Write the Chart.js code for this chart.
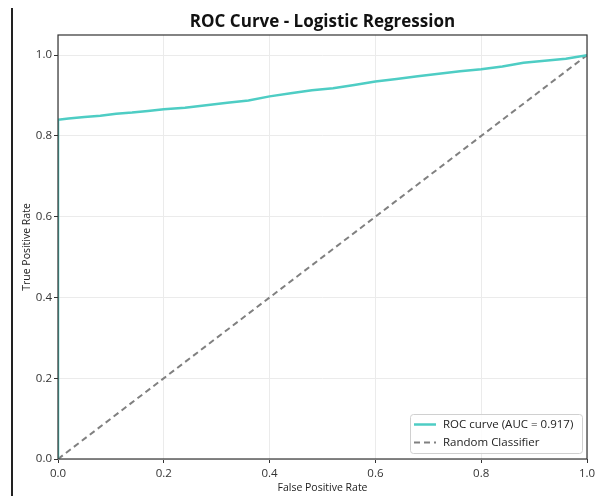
<!DOCTYPE html>
<html>
<head>
<meta charset="utf-8">
<script src="https://cdn.jsdelivr.net/npm/chart.js@4/dist/chart.umd.min.js"></script>
<style>
  html, body { margin: 0; padding: 0; background: #fff; }
  #wrap { position: relative; width: 595px; height: 496px; }
  #edge { position: absolute; left: 11px; top: 8px; width: 2px; height: 488px; background: #222; }
</style>
</head>
<body>
<div id="wrap">
  <canvas id="c" width="595" height="496"></canvas>
  <div id="edge"></div>
</div>
<script>
// ---- data ----
const rocFpr = [0, 0, 0.02, 0.05, 0.08, 0.11, 0.14, 0.17, 0.20, 0.24, 0.28, 0.32, 0.36, 0.40, 0.44, 0.48, 0.52, 0.56, 0.60, 0.64, 0.68, 0.72, 0.76, 0.80, 0.84, 0.88, 0.92, 0.96, 1.00];
const rocTpr = [0, 0.840, 0.843, 0.847, 0.850, 0.855, 0.858, 0.862, 0.866, 0.870, 0.876, 0.882, 0.888, 0.898, 0.906, 0.913, 0.918, 0.926, 0.935, 0.941, 0.948, 0.954, 0.960, 0.965, 0.972, 0.981, 0.986, 0.991, 1.000];
const randFpr = [0, 1];
const randTpr = [0, 1];
const xTicks = [0, 0.2, 0.4, 0.6, 0.8, 1.0];
const yTicks = [0, 0.2, 0.4, 0.6, 0.8, 1.0];
const rocLabel = 'ROC curve (AUC = 0.917)';
const randLabel = 'Random Classifier';
const titleText = 'ROC Curve - Logistic Regression';
const xTitle = 'False Positive Rate';
const yTitle = 'True Positive Rate';

const FONT = "'Open Sans', 'DejaVu Sans', sans-serif";
const TEAL = '#4ecdc4';
const GREY = '#808080';

const toPts = (xs, ys) => xs.map((x, i) => ({x: x, y: ys[i]}));

const framePlugin = {
  id: 'frameLegend',
  afterDraw(chart) {
    const {ctx, chartArea: a} = chart;
    ctx.save();
    // title centred over plot area
    ctx.fillStyle = '#111';
    ctx.font = "bold 17px " + FONT;
    ctx.textAlign = 'center';
    ctx.textBaseline = 'middle';
    ctx.fillText(titleText, (a.left + a.right) / 2, 22);
    // frame
    ctx.strokeStyle = '#333';
    ctx.lineWidth = 1.2;
    ctx.strokeRect(a.left, a.top, a.right - a.left, a.bottom - a.top);
    // legend box (lower right, inside)
    const bw = 172, bh = 39;
    const bx = a.right - 5 - bw, by = a.bottom - 6 - bh;
    ctx.fillStyle = 'rgba(255,255,255,0.85)';
    ctx.strokeStyle = '#d0d0d0';
    ctx.lineWidth = 1;
    ctx.beginPath();
    if (ctx.roundRect) ctx.roundRect(bx + 0.5, by + 0.5, bw, bh, 3); else ctx.rect(bx + 0.5, by + 0.5, bw, bh);
    ctx.fill(); ctx.stroke();
    const ds = chart.data.datasets;
    ds.forEach((d, i) => {
      const cy = by + 10.5 + i * 18;
      ctx.beginPath();
      ctx.strokeStyle = d.borderColor;
      ctx.lineWidth = d.borderWidth;
      ctx.setLineDash(d.borderDash || []);
      ctx.moveTo(bx + 4, cy); ctx.lineTo(bx + 26, cy);
      ctx.stroke();
      ctx.setLineDash([]);
      ctx.fillStyle = '#222';
      ctx.font = "11.5px " + FONT;
      ctx.textBaseline = 'middle';
      ctx.textAlign = 'left';
      ctx.fillText(d.label, bx + 33, cy);
    });
    ctx.restore();
  }
};

new Chart(document.getElementById('c'), {
  type: 'scatter',
  data: {
    datasets: [
      { label: rocLabel, data: toPts(rocFpr, rocTpr), showLine: true, borderColor: TEAL, backgroundColor: TEAL,
        borderWidth: 2.5, pointRadius: 0, tension: 0 },
      { label: randLabel, data: toPts(randFpr, randTpr), showLine: true, borderColor: GREY, backgroundColor: GREY,
        borderWidth: 2, borderDash: [6, 4], pointRadius: 0, tension: 0 }
    ]
  },
  options: {
    responsive: false,
    animation: false,
    layout: { padding: { left: 0, right: 0, top: 35, bottom: 0 } },
    plugins: {
      legend: { display: false },
      tooltip: { enabled: false },
      title: { display: false }
    },
    scales: {
      x: {
        type: 'linear', min: 0, max: 1,
        afterBuildTicks: s => { s.ticks = xTicks.map(v => ({value: v})); },
        afterFit: s => { s.height = 37; s.paddingLeft = 0; s.paddingRight = 8; },
        ticks: { color: '#333', font: { family: FONT, size: 11.5 }, padding: 4,
          callback: v => v.toFixed(1), maxRotation: 0, autoSkip: false },
        grid: { color: '#ebebeb', lineWidth: 1, tickLength: 4, tickColor: '#333', drawTicks: true },
        border: { display: false },
        title: { display: true, text: xTitle, color: '#222', font: { family: FONT, size: 10.5 }, padding: { top: 0, bottom: 2 } }
      },
      y: {
        type: 'linear', min: 0, max: 1.05,
        afterBuildTicks: s => { s.ticks = yTicks.map(v => ({value: v})); },
        afterFit: s => { s.width = 58; s.paddingTop = 0; s.paddingBottom = 0; },
        ticks: { color: '#333', font: { family: FONT, size: 11.5 }, padding: 2,
          callback: v => v.toFixed(1), autoSkip: false },
        grid: { color: '#ebebeb', lineWidth: 1, tickLength: 4, tickColor: '#333', drawTicks: true },
        border: { display: false },
        title: { display: true, text: yTitle, color: '#222', font: { family: FONT, size: 10.5 }, padding: { top: 21, bottom: 0 } }
      }
    }
  },
  plugins: [framePlugin]
});
</script>
</body>
</html>
